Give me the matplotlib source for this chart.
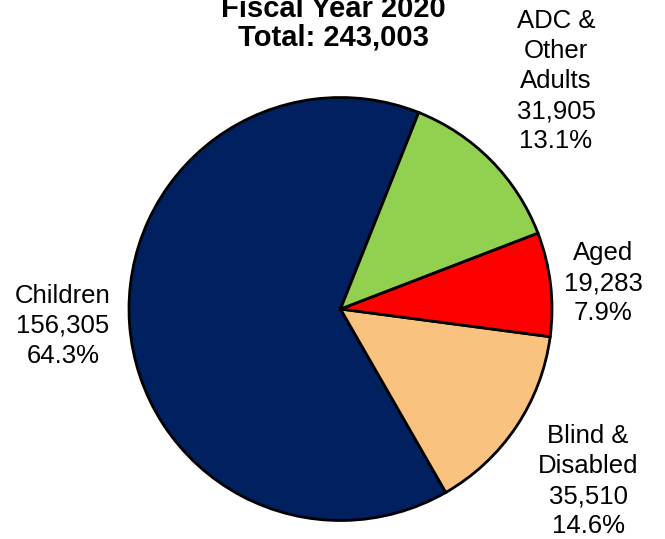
import matplotlib
matplotlib.use('Agg')
import matplotlib.pyplot as plt

plt.rcParams['font.family'] = ['Liberation Sans', 'DejaVu Sans']

categories = ['Children', 'Blind &\nDisabled', 'Aged', 'ADC &\nOther\nAdults']
counts = [156305, 35510, 19283, 31905]
percents = ['64.3%', '14.6%', '7.9%', '13.1%']
colors = ['#002060', '#F9C37F', '#FF0000', '#92D050']
total_label = 'Total: 243,003'
title = 'Fiscal Year 2020'

W, H = 665, 539
cx, cy, r = 340.5, 309, 211.5

fig = plt.figure(figsize=(W / 100, H / 100), dpi=100)
ax = fig.add_axes([(cx - r) / W, (H - cy - r) / H, 2 * r / W, 2 * r / H])
ax.pie(counts, colors=colors, startangle=68.3, counterclock=True,
       radius=1, wedgeprops=dict(edgecolor='black', linewidth=2))
ax.set_xlim(-1, 1)
ax.set_ylim(-1, 1)
ax.set_aspect('equal')
ax.axis('off')

# label centres in pixels (from top-left of the figure)
label_px = [(63, 326), (588, 481), (603, 283), (556, 81)]
for cat, n, pct, (px, py) in zip(categories, counts, percents, label_px):
    ax.text((px - cx) / r, (cy - py) / r, f'{cat}\n{n:,}\n{pct}',
            ha='center', va='center', fontsize=18.5, linespacing=1.32,
            clip_on=False)

fig.text(333 / W, 1 - 17 / H, title, ha='center', va='baseline',
         fontsize=21, fontweight='bold')
fig.text(333 / W, 1 - 45 / H, total_label, ha='center', va='baseline',
         fontsize=21, fontweight='bold')

fig.savefig('out.png', dpi=100)
